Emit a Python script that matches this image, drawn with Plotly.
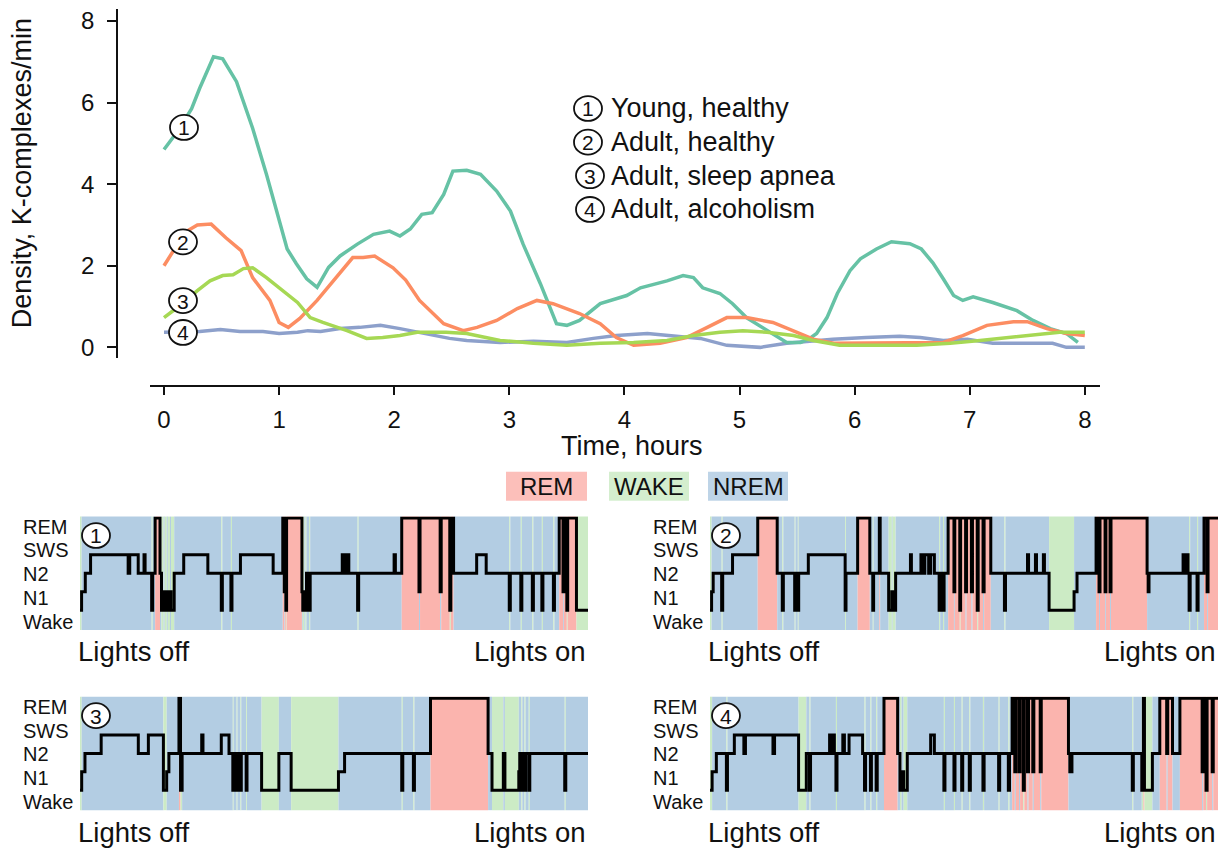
import plotly.graph_objects as go

FIG_W, FIG_H = 1227, 849
FONT = "Liberation Sans, Arial, Helvetica, sans-serif"
INK = "#111111"

# ---------------- K-complex density through the night ----------------
hours_young = [0.0, 0.12, 0.24, 0.31, 0.43, 0.51, 0.63, 0.77, 0.89, 0.98, 1.07, 1.15, 1.24,
               1.33, 1.43, 1.53, 1.68, 1.82, 1.96, 2.05, 2.14, 2.24, 2.33, 2.43, 2.51, 2.63,
               2.75, 2.89, 3.01, 3.12, 3.27, 3.41, 3.50, 3.61, 3.79, 4.02, 4.14, 4.37, 4.51,
               4.60, 4.68, 4.83, 4.94, 5.06, 5.24, 5.41, 5.53, 5.61, 5.67, 5.76, 5.85, 5.96,
               6.05, 6.19, 6.32, 6.48, 6.58, 6.68, 6.77, 6.86, 6.94, 7.03, 7.20, 7.41, 7.55,
               7.70, 7.84, 7.94]
density_young = [4.85, 5.3, 5.85, 6.35, 7.12, 7.07, 6.51, 5.37, 4.24, 3.34, 2.41, 2.05, 1.68,
                 1.47, 1.96, 2.24, 2.53, 2.77, 2.85, 2.73, 2.9, 3.26, 3.3, 3.75, 4.32, 4.34,
                 4.24, 3.83, 3.34, 2.53, 1.56, 0.58, 0.54, 0.66, 1.07, 1.27, 1.46, 1.63, 1.76,
                 1.71, 1.46, 1.32, 1.07, 0.73, 0.41, 0.12, 0.12, 0.22, 0.34, 0.73, 1.32, 1.88,
                 2.17, 2.41, 2.59, 2.54, 2.41, 2.07, 1.68, 1.27, 1.15, 1.24, 1.1, 0.9, 0.66,
                 0.46, 0.34, 0.12]

hours_adult = [0.0, 0.1, 0.2, 0.29, 0.41, 0.54, 0.67, 0.77, 0.92, 1.0, 1.08, 1.18, 1.33, 1.47,
               1.64, 1.73, 1.83, 1.99, 2.1, 2.22, 2.43, 2.6, 2.72, 2.89, 3.07, 3.24, 3.38, 3.61,
               3.79, 3.93, 4.08, 4.31, 4.54, 4.72, 4.89, 5.06, 5.29, 5.5, 5.64, 5.82, 6.4, 6.77,
               6.94, 7.15, 7.38, 7.5, 7.67, 7.84, 8.0]
density_adult = [2.0, 2.45, 2.85, 3.0, 3.02, 2.68, 2.37, 1.71, 1.15, 0.61, 0.49, 0.71, 1.15, 1.63,
                 2.2, 2.2, 2.24, 1.95, 1.65, 1.15, 0.58, 0.41, 0.49, 0.66, 0.95, 1.15, 1.07, 0.83,
                 0.58, 0.24, 0.05, 0.1, 0.24, 0.49, 0.73, 0.73, 0.61, 0.37, 0.2, 0.1, 0.1, 0.12,
                 0.29, 0.54, 0.63, 0.63, 0.46, 0.34, 0.29]

hours_apnea = [0.0, 0.15, 0.29, 0.4, 0.51, 0.6, 0.69, 0.77, 0.89, 1.03, 1.16, 1.27, 1.38, 1.59,
               1.76, 1.9, 2.05, 2.2, 2.45, 2.63, 2.92, 3.21, 3.5, 3.79, 4.08, 4.37, 4.6, 4.83,
               5.03, 5.24, 5.47, 5.64, 5.87, 6.54, 6.83, 7.09, 7.35, 7.61, 7.78, 8.0]
density_apnea = [0.73, 1.05, 1.39, 1.63, 1.76, 1.78, 1.93, 1.95, 1.71, 1.39, 1.1, 0.73, 0.61, 0.41,
                 0.22, 0.24, 0.29, 0.37, 0.37, 0.34, 0.17, 0.1, 0.05, 0.1, 0.12, 0.17, 0.29, 0.37,
                 0.41, 0.37, 0.29, 0.17, 0.05, 0.05, 0.1, 0.17, 0.24, 0.32, 0.37, 0.37]

hours_alcohol = [0.0, 0.31, 0.49, 0.66, 0.86, 1.0, 1.16, 1.25, 1.36, 1.53, 1.7, 1.88, 2.05, 2.22,
                 2.48, 2.63, 2.92, 3.21, 3.5, 3.73, 3.93, 4.2, 4.42, 4.66, 4.89, 5.18, 5.41, 5.64,
                 5.81, 6.1, 6.39, 6.57, 6.77, 6.98, 7.2, 7.55, 7.72, 7.84, 8.0]
density_alcohol = [0.37, 0.39, 0.44, 0.39, 0.39, 0.34, 0.37, 0.41, 0.39, 0.46, 0.49, 0.54, 0.46,
                   0.37, 0.22, 0.17, 0.12, 0.15, 0.12, 0.22, 0.29, 0.34, 0.29, 0.22, 0.05, 0.0,
                   0.1, 0.15, 0.2, 0.24, 0.27, 0.24, 0.17, 0.2, 0.1, 0.1, 0.1, 0.0, 0.0]

group_numbers = ["1", "2", "3", "4"]
group_labels = ["Young, healthy", "Adult, healthy", "Adult, sleep apnea", "Adult, alcoholism"]
group_colors = ["#66c2a5", "#fc8d62", "#a6d854", "#8da0cb"]

x_ticks = [0, 1, 2, 3, 4, 5, 6, 7, 8]
y_ticks = [0, 2, 4, 6, 8]

# ---------------- Hypnograms: (minutes after lights off, stage) ----------------
night_minutes = 480

hyp_young = [
    (0, "W"), (1.5, "N1"), (5, "N2"), (10, "SWS"), (45.5, "N2"), (47, "SWS"), (55, "N2"),
    (60.5, "SWS"), (61.5, "N2"), (67.7, "W"), (68.7, "N2"), (71, "REM"), (75.6, "N2"),
    (77, "W"), (79, "N1"), (80, "W"), (82, "N1"), (83, "W"), (85, "N1"), (86, "W"), (89, "N2"),
    (98, "SWS"), (120.8, "N2"), (133.5, "W"), (134.5, "N2"), (142.6, "W"), (143.6, "N2"),
    (151.6, "SWS"), (182.5, "N2"), (191.6, "REM"), (193, "N1"), (193.6, "REM"), (194.5, "W"),
    (195.2, "REM"), (209.7, "N1"), (210.5, "W"), (212, "N1"), (213, "W"), (214, "N2"),
    (216.5, "W"), (217.5, "N2"), (247.8, "SWS"), (249, "N2"), (250, "SWS"), (251.5, "N2"),
    (252.5, "SWS"), (254, "N2"), (262.3, "W"), (263.3, "N2"), (296.8, "SWS"), (298, "N2"),
    (304, "REM"), (320.3, "N1"), (321.3, "REM"), (340.3, "N1"), (341.3, "REM"), (349.4, "W"),
    (350.4, "REM"), (353, "N2"), (374.8, "SWS"), (383.8, "N2"), (405.6, "W"), (406.6, "N2"),
    (416.5, "W"), (417.5, "N2"), (427.4, "W"), (428.4, "N2"), (436.4, "W"), (437.4, "N2"),
    (447.3, "W"), (448.3, "N2"), (452.8, "REM"), (456.4, "N1"), (457.2, "REM"), (460, "W"),
    (460.8, "REM"), (469.1, "W"),
]

hyp_adult = [
    (0, "W"), (1.5, "N1"), (3, "N2"), (11, "W"), (12, "N2"), (21.3, "SWS"), (45.1, "REM"),
    (63.5, "N2"), (68.3, "W"), (69.3, "N2"), (80, "W"), (80.8, "N2"), (83, "W"), (83.8, "N2"),
    (92.9, "SWS"), (127.7, "W"), (128.5, "N2"), (139.5, "REM"), (151, "N2"), (153.8, "W"),
    (154.6, "N2"), (160, "REM"), (160.8, "N2"), (168.8, "W"), (171.8, "N1"), (172.6, "W"),
    (175.4, "N2"), (189.4, "SWS"), (190.3, "N2"), (199.3, "SWS"), (201, "N2"), (203, "SWS"),
    (206.6, "N2"), (208.5, "SWS"), (212, "N2"), (216.5, "W"), (217.5, "N2"), (220.2, "W"),
    (221.2, "N2"), (225, "REM"), (230.5, "N1"), (231.3, "REM"), (236, "W"), (236.8, "REM"),
    (241.5, "N1"), (242.4, "REM"), (247, "N1"), (248, "REM"), (252.5, "W"), (253.4, "REM"),
    (258, "N1"), (259, "REM"), (265.3, "N2"), (278.2, "W"), (279.2, "N2"), (300, "SWS"),
    (301, "N2"), (307.5, "SWS"), (308.5, "N2"), (315, "SWS"), (316, "N2"), (320.4, "W"),
    (344, "N1"), (346.8, "N2"), (364.8, "REM"), (367.6, "N1"), (368.5, "REM"), (373.3, "N1"),
    (374.1, "REM"), (378, "N1"), (378.9, "REM"), (413, "N2"), (414, "N1"), (414.8, "N2"),
    (447, "SWS"), (449, "N2"), (450, "SWS"), (451.7, "N2"), (452.7, "W"), (453.7, "N2"),
    (460.2, "W"), (461.2, "N2"), (466.8, "REM"), (469.7, "N1"), (470.6, "REM"),
]

hyp_apnea = [
    (0, "W"), (1.6, "N1"), (4.7, "N2"), (20, "SWS"), (55.1, "N2"), (64.6, "SWS"), (78.8, "W"),
    (81.9, "N1"), (84, "N2"), (93.5, "REM"), (95, "W"), (96.5, "N2"), (115, "SWS"),
    (116.2, "N2"), (133.5, "SWS"), (140.8, "N2"), (144.4, "W"), (145.2, "N2"), (148, "W"),
    (148.8, "N2"), (151.6, "W"), (152.4, "N2"), (157, "W"), (157.8, "N2"), (171.6, "W"),
    (187.9, "N2"), (199.5, "W"), (244.2, "N1"), (250, "N2"), (304, "W"), (305, "N2"),
    (315, "W"), (316, "N2"), (331.2, "REM"), (385.6, "N2"), (389.3, "W"), (400, "N2"),
    (401.5, "W"), (414.6, "N1"), (415.5, "N2"), (417, "W"), (418, "N2"), (420, "W"),
    (421, "N2"), (424, "W"), (425, "N2"), (458, "W"), (459, "N2"),
]

hyp_alcohol = [
    (0, "W"), (2, "N1"), (6, "N2"), (15.5, "W"), (16.5, "N2"), (23, "SWS"), (32, "N2"),
    (33.5, "SWS"), (59.5, "N2"), (61, "SWS"), (83.7, "W"), (91, "N2"), (94, "W"), (95, "N2"),
    (113, "SWS"), (114.5, "N2"), (116.5, "SWS"), (117.5, "N2"), (119, "W"), (120, "N2"),
    (125.5, "SWS"), (127, "N2"), (131.4, "SWS"), (144.2, "N2"), (146, "W"), (147, "N2"),
    (151.6, "W"), (152.5, "N2"), (157, "W"), (158, "N2"), (164.4, "REM"), (177.3, "N2"),
    (179.5, "W"), (181, "N1"), (183, "W"), (186.4, "N2"), (208.5, "SWS"), (212, "N2"),
    (221, "W"), (222, "N2"), (230.5, "W"), (231.5, "N2"), (237.8, "W"), (238.8, "N2"),
    (245, "W"), (246, "N2"), (257.9, "W"), (259, "N2"), (272.7, "W"), (273.7, "N2"),
    (281.9, "W"), (283, "N2"), (285.5, "REM"), (288, "N1"), (289, "REM"), (292, "N1"),
    (293, "REM"), (296, "W"), (297, "REM"), (300, "N1"), (301, "REM"), (305, "N1"),
    (306, "REM"), (312, "N1"), (313, "REM"), (338.7, "N2"), (340, "N1"), (342, "N2"),
    (399, "W"), (400, "N2"), (408, "W"), (409.5, "REM"), (410.5, "W"), (418, "N2"),
    (425, "REM"), (431.5, "N2"), (432.5, "REM"), (437, "N2"), (444, "REM"), (465, "N1"),
    (466, "REM"), (468.7, "W"), (469.7, "REM"), (474.5, "N1"), (475.5, "REM"),
]

stage_labels = ["REM", "SWS", "N2", "N1", "Wake"]
state_labels = ["REM", "WAKE", "NREM"]
state_colors = {"REM": "#fbb4ae", "WAKE": "#ccebc5", "NREM": "#b3cde3"}
stage_level = {"W": 0, "N1": 1, "N2": 2, "SWS": 3, "REM": 5}


def px_x(p):
    return p / FIG_W


def px_y(p):
    return 1 - p / FIG_H


def state_of(stage):
    if stage == "REM":
        return "REM"
    if stage == "W":
        return "WAKE"
    return "NREM"


fig = go.Figure()
shapes = []
annotations = []

# ---------------- top panel: density curves ----------------
curves = [
    (hours_alcohol, density_alcohol, 3),
    (hours_young, density_young, 0),
    (hours_adult, density_adult, 1),
    (hours_apnea, density_apnea, 2),
]
for hrs, dens, i in curves:
    fig.add_trace(go.Scatter(
        x=hrs, y=dens, mode="lines", name=group_labels[i], showlegend=False,
        line=dict(color=group_colors[i], width=3.5), xaxis="x", yaxis="y",
        hoverinfo="skip",
    ))

X0_PX, X_PER_HOUR = 164, 115.1
Y0_PX, Y_PER_UNIT = 347, 41.0


def circled(cx, cy, num, size=21):
    shapes.append(dict(type="circle", xref="paper", yref="paper",
                       x0=px_x(cx - 14), x1=px_x(cx + 14),
                       y0=px_y(cy + 12.5), y1=px_y(cy - 12.5),
                       fillcolor="white", line=dict(color=INK, width=1.8), layer="above"))
    annotations.append(dict(text=num, xref="paper", yref="paper",
                            x=px_x(cx), y=px_y(cy + 0.5), xanchor="center", yanchor="middle",
                            showarrow=False, font=dict(family=FONT, size=size, color=INK)))


# circled numbers at the start of each curve
for (cx, cy), num in zip([(184, 126), (183, 241), (183, 300), (183, 332)], group_numbers):
    circled(cx, cy, num)

# key
for k, (num, lab) in enumerate(zip(group_numbers, group_labels)):
    cy = 107 + 33.8 * k
    circled(588 + (2 if k >= 2 else 0), cy, num)
    annotations.append(dict(text=lab, xref="paper", yref="paper", x=px_x(609), y=px_y(cy),
                            xanchor="left", yanchor="middle", showarrow=False,
                            font=dict(family=FONT, size=27, color=INK)))

annotations.append(dict(text="Time, hours", xref="paper", yref="paper", x=px_x(632), y=px_y(446),
                        xanchor="center", yanchor="middle", showarrow=False,
                        font=dict(family=FONT, size=27, color=INK)))
annotations.append(dict(text="Density, K-complexes/min", xref="paper", yref="paper",
                        x=px_x(22), y=px_y(172), xanchor="center", yanchor="middle",
                        textangle=-90, showarrow=False,
                        font=dict(family=FONT, size=27, color=INK)))

layout_axes = dict(
    xaxis=dict(domain=[px_x(150), px_x(1100)],
               range=[(150 - X0_PX) / X_PER_HOUR, (1100 - X0_PX) / X_PER_HOUR],
               anchor="free", position=px_y(386), showline=True, linecolor=INK, linewidth=1.5,
               ticks="outside", ticklen=8, tickwidth=1.5, tickcolor=INK, tickvals=x_ticks,
               tickfont=dict(family=FONT, size=24, color=INK), ticklabelstandoff=4,
               showgrid=False, zeroline=False),
    yaxis=dict(domain=[px_y(358), px_y(7)],
               range=[(Y0_PX - 358) / Y_PER_UNIT, (Y0_PX - 7) / Y_PER_UNIT],
               anchor="free", position=px_x(117), showline=True, linecolor=INK, linewidth=1.5,
               ticks="outside", ticklen=9, tickwidth=1.5, tickcolor=INK, tickvals=y_ticks,
               tickfont=dict(family=FONT, size=24, color=INK), ticklabelstandoff=8,
               showgrid=False, zeroline=False),
)

# ---------------- sleep-state key ----------------
for lab, (left, right) in zip(state_labels, [(506, 587), (609, 689), (708, 788)]):
    shapes.append(dict(type="rect", xref="paper", yref="paper",
                       x0=px_x(left), x1=px_x(right), y0=px_y(501), y1=px_y(472),
                       fillcolor=state_colors[lab], opacity=0.85, line=dict(width=0),
                       layer="below"))
    annotations.append(dict(text=lab, xref="paper", yref="paper", x=px_x((left + right) / 2),
                            y=px_y(487), xanchor="center", yanchor="middle", showarrow=False,
                            font=dict(family=FONT, size=24, color=INK)))

# ---------------- hypnogram panels ----------------
PANEL_W, PANEL_H = 508, 114
LEVEL_RANGE = [-1.08, 5.08]
panels = [
    (hyp_young, 80, 517, "1"),
    (hyp_adult, 710, 517, "2"),
    (hyp_apnea, 80, 698, "3"),
    (hyp_alcohol, 710, 698, "4"),
]

for k, (hyp, left, top, num) in enumerate(panels, start=2):
    xa, ya = f"x{k}", f"y{k}"
    mins = [m for m, _ in hyp] + [night_minutes]
    stages = [s for _, s in hyp]
    levels = [stage_level[s] for s in stages]
    levels.append(levels[-1])

    # background bands by sleep state
    band_start = mins[0]
    for i, s in enumerate(stages):
        cur = state_of(s)
        nxt = state_of(stages[i + 1]) if i + 1 < len(stages) else None
        if nxt != cur:
            shapes.append(dict(type="rect", xref=xa, yref=f"{ya} domain",
                               x0=band_start, x1=mins[i + 1], y0=0, y1=1,
                               fillcolor=state_colors[cur], line=dict(width=0), layer="below"))
            band_start = mins[i + 1]

    fig.add_trace(go.Scatter(
        x=mins, y=levels, mode="lines", line=dict(color="black", width=3, shape="hv"),
        xaxis=xa, yaxis=ya, showlegend=False, hoverinfo="skip",
    ))

    layout_axes[f"xaxis{k}"] = dict(domain=[px_x(left), px_x(left + PANEL_W)],
                                    range=[0, night_minutes], anchor=ya, visible=False,
                                    showgrid=False, zeroline=False)
    layout_axes[f"yaxis{k}"] = dict(domain=[px_y(top + PANEL_H), px_y(top)],
                                    range=LEVEL_RANGE, anchor=xa, visible=False,
                                    showgrid=False, zeroline=False)

    for lab, dy in zip(stage_labels, [10, 34, 58, 82, 106]):
        annotations.append(dict(text=lab, xref="paper", yref="paper", x=px_x(left - 59),
                                y=px_y(top + dy), xanchor="left", yanchor="middle",
                                showarrow=False, font=dict(family=FONT, size=20, color=INK)))
    annotations.append(dict(text="Lights off", xref="paper", yref="paper", x=px_x(left - 4),
                            y=px_y(top + PANEL_H + 22), xanchor="left", yanchor="middle",
                            showarrow=False, font=dict(family=FONT, size=27.5, color=INK)))
    annotations.append(dict(text="Lights on", xref="paper", yref="paper",
                            x=px_x(left + PANEL_W), y=px_y(top + PANEL_H + 22),
                            xanchor="right", yanchor="middle",
                            showarrow=False, font=dict(family=FONT, size=27.5, color=INK)))
    circled(left + 16, top + 19, num)

fig.update_layout(
    width=FIG_W, height=FIG_H,
    margin=dict(l=0, r=0, t=0, b=0),
    paper_bgcolor="white", plot_bgcolor="white",
    showlegend=False,
    shapes=shapes, annotations=annotations,
    **layout_axes,
)

fig.write_html("out.html")
